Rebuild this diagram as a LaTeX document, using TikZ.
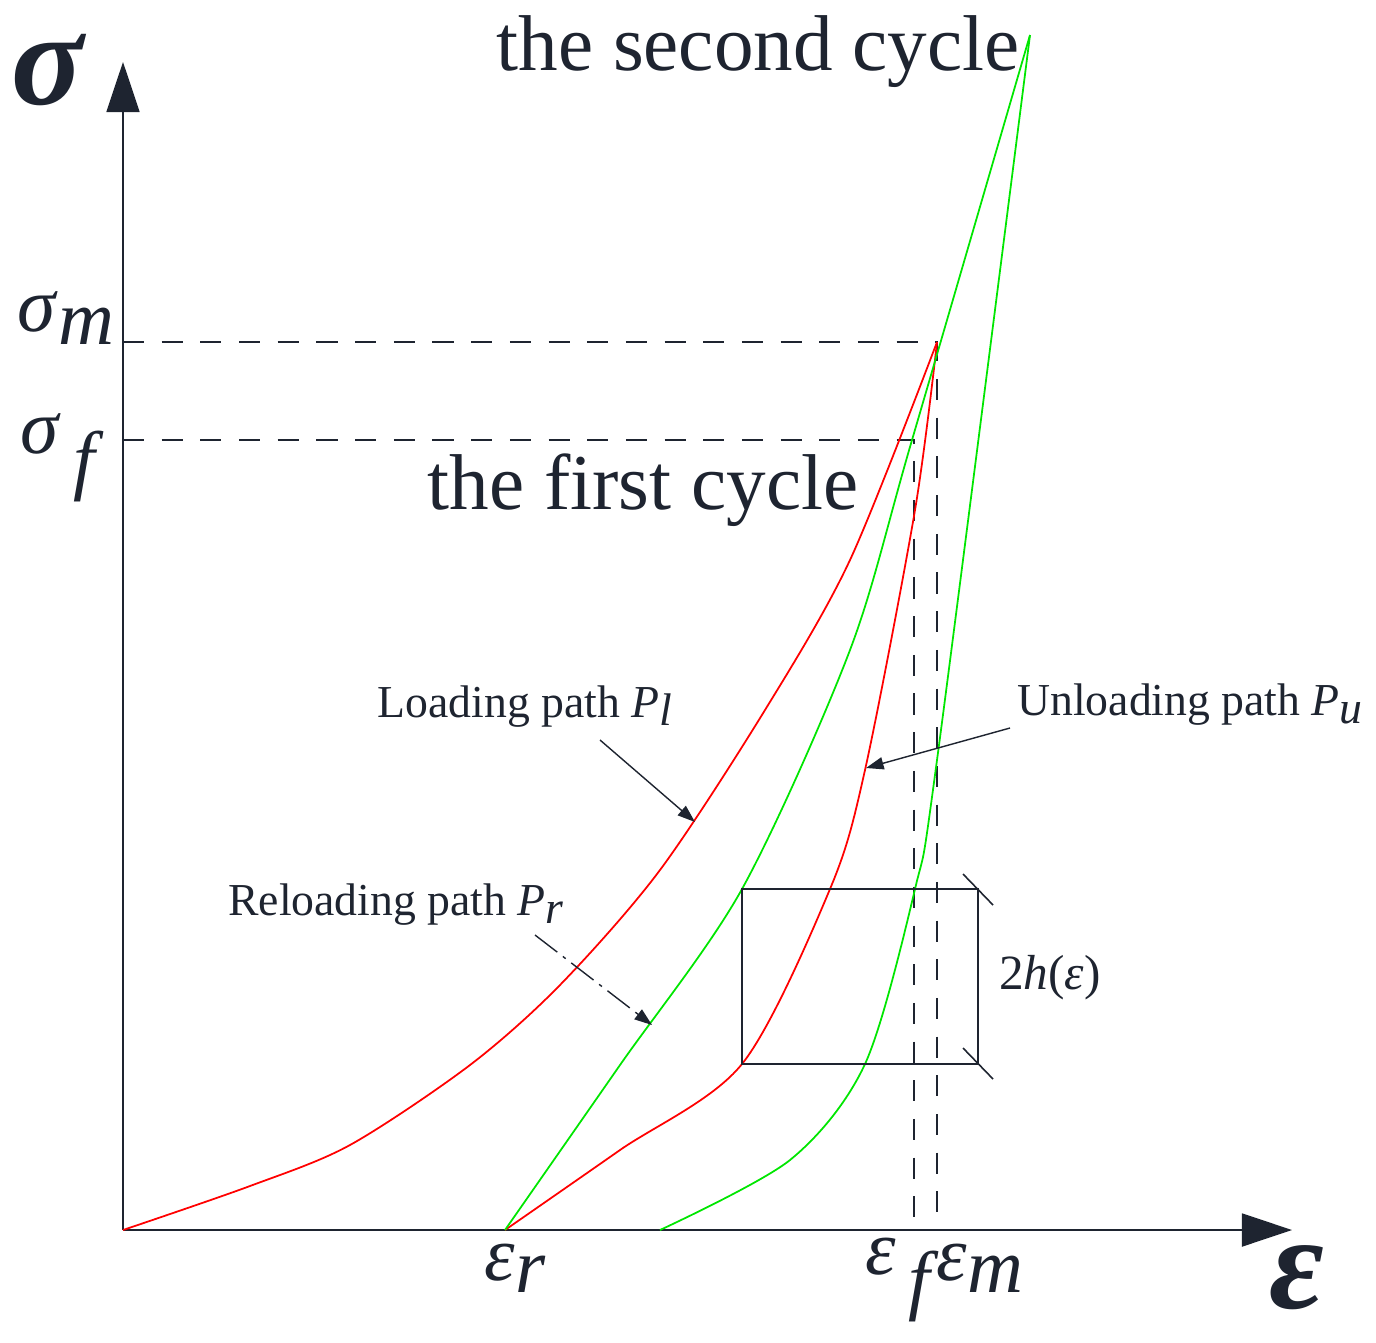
\documentclass[tikz,border=0pt]{standalone}
\usepackage{fontspec}
\setmainfont{Liberation Serif}
\usetikzlibrary{arrows.meta}
\definecolor{ink}{RGB}{30,36,48}
\definecolor{lgreen}{RGB}{0,230,0}
\newcommand{\sym}[2]{\textit{#1}\raisebox{-0.35ex}{\textit{#2}}}
\tikzset{
  axis/.style={ink, line width=0.5pt, -{Triangle[length=0.5cm, width=0.33cm]}},
  guide/.style={ink, dash pattern=on 6pt off 5pt, line width=0.45pt},
  redpath/.style={red, line width=0.5pt},
  grnpath/.style={lgreen, line width=0.5pt},
  lbl/.style={ink, font=\fontsize{13}{15}\selectfont},
  big/.style={ink, font=\fontsize{22.5}{25}\selectfont},
  symb/.style={ink, font=\fontsize{22}{24}\selectfont},
  pointer/.style={ink, line width=0.4pt, -{Triangle[length=5pt, width=3.5pt]}}
}
\begin{document}
\begin{tikzpicture}[x=0.01cm, y=-0.01cm]
    \useasboundingbox (0,0) rectangle (1376,1342);
    % axes
    \coordinate (O) at (123,1230);
    \coordinate (ytop) at (123,62);
    \coordinate (xend) at (1292,1230);
    \draw[axis] (O) -- (ytop);
    \draw[axis] (O) -- (xend);
    \node[ink, font=\fontsize{38}{40}\selectfont\bfseries\itshape] (sig) at (48,70) {σ};
    \node[ink, font=\fontsize{38}{40}\selectfont\bfseries\itshape] (eps) at (1297,1278) {ε};
    % reference levels
    \coordinate (M) at (937,342);
    \coordinate (F) at (914,440);
    \draw[guide] (123,342) -- (M) -- (937,1230);
    \draw[guide] (123,440) -- (F) -- (914,1230);
    \node[symb] (sm) at (66,318) {\sym{σ}{m}};
    \node[symb] (sf) at (62,458) {\textit{σ}\raisebox{-0.9ex}{\,\textit{f}}};
    \node[symb] (er) at (515,1268) {\sym{ε}{r}};
    \node[symb] (ef) at (902,1280) {\textit{ε}\raisebox{-0.9ex}{\,\textit{f}}};
    \node[symb] (em) at (980,1268) {\sym{ε}{m}};
    % paths
    \draw[redpath] plot[smooth, tension=0.5] coordinates {(123,1230) (250,1186) (350,1145) (470,1065) (560,985) (660,870) (765,710) (850,560) (937,342)};
    \draw[redpath] plot[smooth, tension=0.5] coordinates {(937,342) (915,510) (865,770) (830,889) (742,1064) (620,1150) (505,1230)};
    \draw[grnpath] plot[smooth, tension=0.5] coordinates {(505,1230) (620,1065) (742,889) (850,650) (912,440) (1030,35)};
    \draw[grnpath] plot[smooth, tension=0.5] coordinates {(660,1230) (790,1160) (865,1064) (915,889) (937,760) (1030,35)};
    % band 2h
    \draw[ink, line width=0.45pt] (742,889) rectangle (978,1064);
    \draw[ink, line width=0.45pt] (963,874) -- (993,905) (963,1048) -- (993,1079);
    \node[lbl, font=\fontsize{14}{16}\selectfont] (h) at (1050,978) {2\textit{h}(\textit{ε})};
    % labels
    \node[big] (c2) at (758,52) {the second cycle};
    \node[big] (c1) at (643,490) {the first cycle};
    \node[lbl] (Pl) at (525,707) {Loading path \sym{P}{l}};
    \node[lbl] (Pu) at (1190,705) {Unloading path \sym{P}{u}};
    \node[lbl] (Pr) at (396,905) {Reloading path \sym{P}{r}};
    \coordinate (al) at (695,822);
    \coordinate (au) at (866,768);
    \coordinate (ar) at (652,1025);
    \draw[pointer] (600,740) -- (al);
    \draw[pointer] (1010,728) -- (au);
    \draw[pointer, dash pattern=on 8pt off 2pt on 1pt off 2pt] (535,935) -- (ar);
\end{tikzpicture}
\end{document}
